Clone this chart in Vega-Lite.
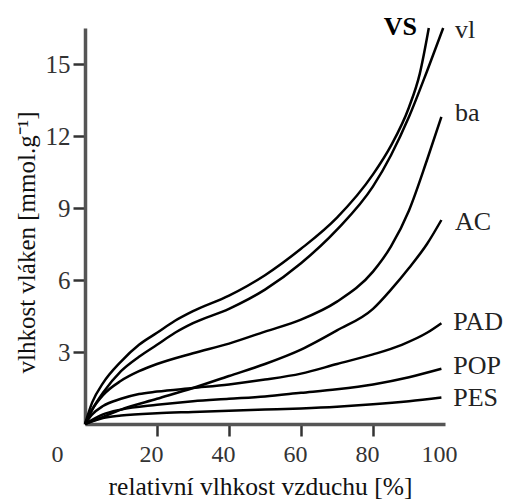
{
  "$schema": "https://vega.github.io/schema/vega-lite/v6.json",
  "width": 360,
  "height": 396,
  "autosize": "none",
  "padding": {"left": 85, "top": 28, "right": 62, "bottom": 78},
  "background": "white",
  "config": {
    "view": {"stroke": null},
    "font": "Liberation Serif",
    "axis": {"labelFont": "Liberation Serif", "titleFont": "Liberation Serif"},
    "text": {"font": "Liberation Serif"}
  },
  "datasets": {
    "curves": [
      {"s": "VS", "x": 0, "y": 0}, {"s": "VS", "x": 2, "y": 0.9}, {"s": "VS", "x": 5, "y": 1.7}, {"s": "VS", "x": 10, "y": 2.6}, {"s": "VS", "x": 15, "y": 3.3}, {"s": "VS", "x": 20, "y": 3.8}, {"s": "VS", "x": 25, "y": 4.3}, {"s": "VS", "x": 30, "y": 4.7}, {"s": "VS", "x": 40, "y": 5.35}, {"s": "VS", "x": 50, "y": 6.2}, {"s": "VS", "x": 60, "y": 7.3}, {"s": "VS", "x": 70, "y": 8.6}, {"s": "VS", "x": 80, "y": 10.4}, {"s": "VS", "x": 85, "y": 11.6}, {"s": "VS", "x": 90, "y": 13.2}, {"s": "VS", "x": 93, "y": 14.6}, {"s": "VS", "x": 95.5, "y": 16.5},
      {"s": "vl", "x": 0, "y": 0}, {"s": "vl", "x": 2, "y": 0.6}, {"s": "vl", "x": 5, "y": 1.3}, {"s": "vl", "x": 10, "y": 2.2}, {"s": "vl", "x": 15, "y": 2.8}, {"s": "vl", "x": 20, "y": 3.3}, {"s": "vl", "x": 25, "y": 3.8}, {"s": "vl", "x": 30, "y": 4.2}, {"s": "vl", "x": 40, "y": 4.8}, {"s": "vl", "x": 50, "y": 5.6}, {"s": "vl", "x": 60, "y": 6.7}, {"s": "vl", "x": 70, "y": 8.1}, {"s": "vl", "x": 80, "y": 9.9}, {"s": "vl", "x": 85, "y": 11.2}, {"s": "vl", "x": 90, "y": 12.8}, {"s": "vl", "x": 95, "y": 14.7}, {"s": "vl", "x": 99.5, "y": 16.5},
      {"s": "ba", "x": 0, "y": 0}, {"s": "ba", "x": 2, "y": 0.6}, {"s": "ba", "x": 5, "y": 1.2}, {"s": "ba", "x": 10, "y": 1.8}, {"s": "ba", "x": 15, "y": 2.2}, {"s": "ba", "x": 20, "y": 2.5}, {"s": "ba", "x": 30, "y": 2.95}, {"s": "ba", "x": 40, "y": 3.35}, {"s": "ba", "x": 50, "y": 3.85}, {"s": "ba", "x": 60, "y": 4.35}, {"s": "ba", "x": 70, "y": 5.1}, {"s": "ba", "x": 80, "y": 6.35}, {"s": "ba", "x": 85, "y": 7.4}, {"s": "ba", "x": 90, "y": 8.9}, {"s": "ba", "x": 95, "y": 11.0}, {"s": "ba", "x": 99, "y": 12.8},
      {"s": "AC", "x": 0, "y": 0}, {"s": "AC", "x": 5, "y": 0.3}, {"s": "AC", "x": 10, "y": 0.6}, {"s": "AC", "x": 20, "y": 1.05}, {"s": "AC", "x": 30, "y": 1.5}, {"s": "AC", "x": 40, "y": 2.0}, {"s": "AC", "x": 50, "y": 2.5}, {"s": "AC", "x": 60, "y": 3.1}, {"s": "AC", "x": 70, "y": 3.9}, {"s": "AC", "x": 80, "y": 4.8}, {"s": "AC", "x": 85, "y": 5.6}, {"s": "AC", "x": 90, "y": 6.5}, {"s": "AC", "x": 95, "y": 7.5}, {"s": "AC", "x": 99, "y": 8.5},
      {"s": "PAD", "x": 0, "y": 0}, {"s": "PAD", "x": 2, "y": 0.4}, {"s": "PAD", "x": 5, "y": 0.75}, {"s": "PAD", "x": 10, "y": 1.05}, {"s": "PAD", "x": 15, "y": 1.25}, {"s": "PAD", "x": 20, "y": 1.35}, {"s": "PAD", "x": 30, "y": 1.5}, {"s": "PAD", "x": 40, "y": 1.65}, {"s": "PAD", "x": 50, "y": 1.85}, {"s": "PAD", "x": 60, "y": 2.1}, {"s": "PAD", "x": 70, "y": 2.5}, {"s": "PAD", "x": 80, "y": 2.9}, {"s": "PAD", "x": 88, "y": 3.3}, {"s": "PAD", "x": 95, "y": 3.8}, {"s": "PAD", "x": 99, "y": 4.2},
      {"s": "POP", "x": 0, "y": 0}, {"s": "POP", "x": 5, "y": 0.4}, {"s": "POP", "x": 10, "y": 0.6}, {"s": "POP", "x": 20, "y": 0.8}, {"s": "POP", "x": 30, "y": 0.95}, {"s": "POP", "x": 40, "y": 1.05}, {"s": "POP", "x": 50, "y": 1.15}, {"s": "POP", "x": 60, "y": 1.3}, {"s": "POP", "x": 70, "y": 1.45}, {"s": "POP", "x": 80, "y": 1.65}, {"s": "POP", "x": 90, "y": 1.95}, {"s": "POP", "x": 99, "y": 2.3},
      {"s": "PES", "x": 0, "y": 0}, {"s": "PES", "x": 5, "y": 0.25}, {"s": "PES", "x": 10, "y": 0.35}, {"s": "PES", "x": 20, "y": 0.45}, {"s": "PES", "x": 30, "y": 0.5}, {"s": "PES", "x": 40, "y": 0.55}, {"s": "PES", "x": 50, "y": 0.6}, {"s": "PES", "x": 60, "y": 0.65}, {"s": "PES", "x": 70, "y": 0.72}, {"s": "PES", "x": 80, "y": 0.82}, {"s": "PES", "x": 90, "y": 0.95}, {"s": "PES", "x": 99, "y": 1.1}
    ],
    "labels": [
      {"t": "vl", "x": 102.8, "y": 16.4},
      {"t": "ba", "x": 102.8, "y": 12.95},
      {"t": "AC", "x": 102.8, "y": 8.4},
      {"t": "PAD", "x": 102.3, "y": 4.25},
      {"t": "POP", "x": 102.3, "y": 2.4},
      {"t": "PES", "x": 102.3, "y": 1.1}
    ],
    "bold": [
      {"t": "VS", "x": 92.2, "y": 16.55}
    ]
  },
  "layer": [
    {
      "data": {"name": "curves"},
      "mark": {"type": "line", "interpolate": "monotone", "color": "black", "strokeWidth": 2.5},
      "encoding": {
        "x": {
          "field": "x", "type": "quantitative",
          "scale": {"domain": [0, 100], "nice": false, "zero": true},
          "axis": {
            "values": [0, 20, 40, 60, 80, 100],
            "grid": false,
            "title": "relativní vlhkost vzduchu [%]",
            "titleFont": "Liberation Serif", "titleFontSize": 25.5, "titleFontWeight": "normal", "titleColor": "#111",
            "titleBaseline": "alphabetic", "titleY": 70, "titleX": 175,
            "labelFont": "Liberation Serif", "labelFontSize": 24, "labelColor": "#333",
            "labelOffset": {"condition": {"test": "datum.value === 0", "value": -28}, "value": -6},
            "tickOpacity": {"condition": {"test": "datum.value === 0 || datum.value === 100", "value": 0}, "value": 1},
            "labelPadding": 6, "tickSize": 12, "tickWidth": 2.5, "tickColor": "#333",
            "domainColor": "#555", "domainWidth": 3.5, "labelFlush": false, "labelOverlap": false
          }
        },
        "y": {
          "field": "y", "type": "quantitative",
          "scale": {"domain": [0, 16.5], "nice": false},
          "axis": {
            "values": [3, 6, 9, 12, 15],
            "grid": false,
            "title": "vlhkost vláken [mmol.g⁻¹]",
            "titleFont": "Liberation Serif", "titleFontSize": 25, "titleFontWeight": "normal", "titleColor": "#111",
            "titleAngle": -90, "titleAlign": "center", "titleBaseline": "alphabetic",
            "titleX": -51, "titleY": 214,
            "labelFont": "Liberation Serif", "labelFontSize": 25, "labelColor": "#333",
            "labelPadding": 3, "tickSize": 12, "tickWidth": 2.5, "tickColor": "#333",
            "domainColor": "#555", "domainWidth": 3.5, "labelFlush": false, "labelOverlap": false
          }
        },
        "detail": {"field": "s", "type": "nominal"}
      }
    },
    {
      "data": {"name": "labels"},
      "mark": {"type": "text", "align": "left", "baseline": "middle", "font": "Liberation Serif", "fontSize": 26, "color": "#222"},
      "encoding": {
        "x": {"field": "x", "type": "quantitative"},
        "y": {"field": "y", "type": "quantitative"},
        "text": {"field": "t"}
      }
    },
    {
      "data": {"name": "bold"},
      "mark": {"type": "text", "align": "right", "baseline": "middle", "font": "Liberation Serif", "fontSize": 26, "fontWeight": "bold", "color": "black"},
      "encoding": {
        "x": {"field": "x", "type": "quantitative"},
        "y": {"field": "y", "type": "quantitative"},
        "text": {"field": "t"}
      }
    },
    {
      "mark": {"type": "point", "shape": "triangle-up", "filled": true, "color": "black", "size": 70, "opacity": 1},
      "encoding": {"x": {"datum": 0}, "y": {"datum": 16.3}}
    },
    {
      "mark": {"type": "point", "shape": "triangle-right", "filled": true, "color": "#444", "size": 50, "opacity": 1},
      "encoding": {"x": {"datum": 99.5}, "y": {"datum": 0}}
    }
  ]
}
